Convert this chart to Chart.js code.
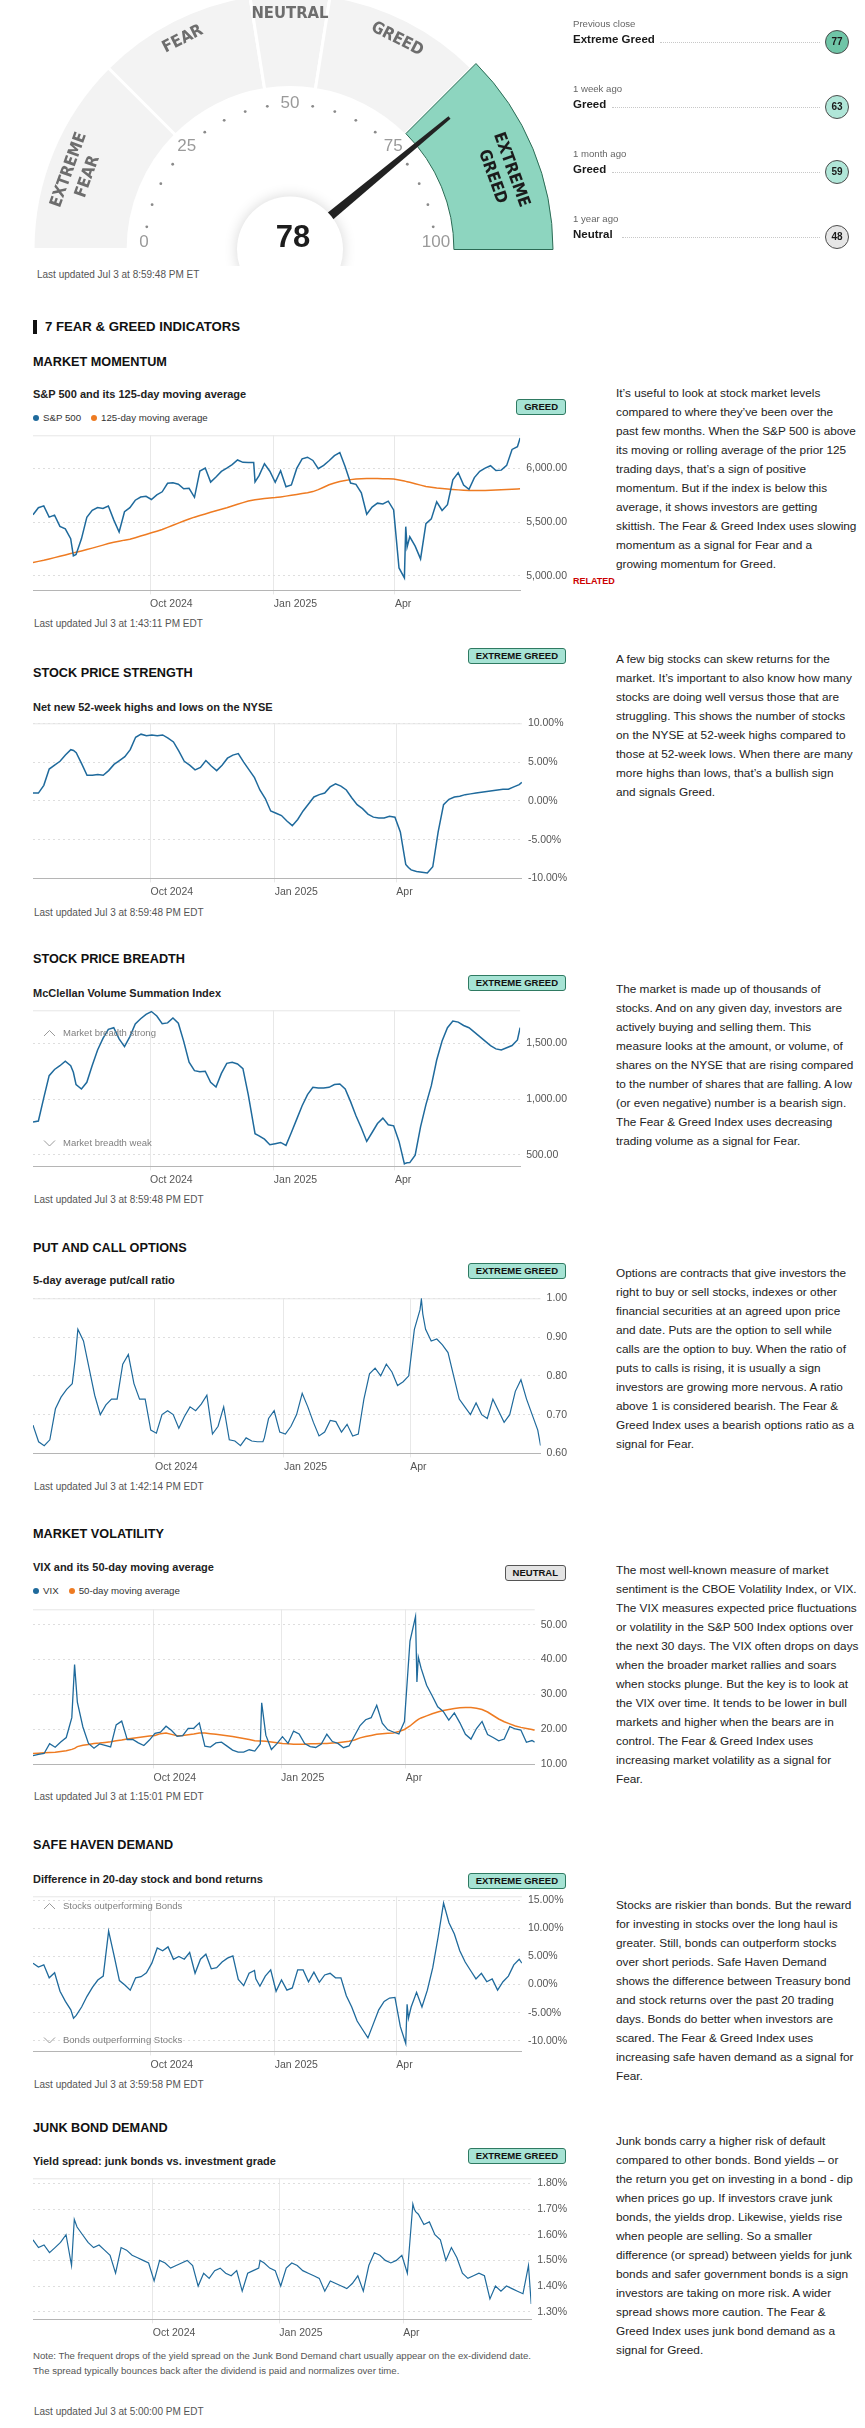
<!DOCTYPE html>
<html lang="en">
<head>
<meta charset="utf-8">
<title>Fear &amp; Greed Index</title>
<script src="https://cdn.jsdelivr.net/npm/chart.js@4.4.1/dist/chart.umd.min.js"></script>
<style>
  html, body { margin: 0; padding: 0; background: #fff; overflow: hidden; }
  #page { position: relative; width: 865px; height: 2428px; overflow: hidden; font-family: "Liberation Sans", Arial, sans-serif; color: #222; }
  .t { position: absolute; white-space: nowrap; }
  .h { font-weight: bold; font-size: 12.7px; line-height: 16px; color: #111; }
  .sub { font-weight: bold; font-size: 11px; line-height: 14px; color: #222; }
  .upd { font-size: 10px; line-height: 12px; color: #555; }
  .lg { font-size: 9.7px; line-height: 12px; color: #333; }
  .lg i { display: inline-block; width: 6px; height: 6px; border-radius: 50%; margin-right: 4px; }
  .lg b { font-weight: normal; margin-right: 10px; }
  .desc { position: absolute; left: 616px; font-size: 11.8px; line-height: 19px; color: #222; white-space: nowrap; }
  .badge { position: absolute; right: 299px; height: 14px; line-height: 14px; padding: 0 7px; border: 1px solid #2f7a62; background: #a6e3d4; border-radius: 3px; font-weight: bold; font-size: 9.5px; color: #111; white-space: nowrap; }
  .badge.neutral { background: #e4e4e4; border-color: #555; }
  .ann { position: absolute; left: 63px; font-size: 9.5px; line-height: 12px; color: #808080; white-space: nowrap; }
  .ann svg { position: absolute; left: -20px; top: 2px; }
  .box { position: absolute; left: 33px; width: 540px; }
  .when { font-size: 9.6px; line-height: 12px; color: #666; }
  .rate { font-size: 11.5px; line-height: 14px; font-weight: bold; color: #1a1a1a; }
  .lead { position: absolute; height: 0; border-top: 1px dotted #c8c8c8; }
  .circ { position: absolute; left: 825px; width: 24px; height: 24px; box-sizing: border-box; border: 1px solid #4d4d4d; border-radius: 50%; text-align: center; line-height: 22px; font-size: 10px; font-weight: bold; color: #1a1a1a; }
  .bar { position: absolute; left: 33px; top: 320px; width: 4px; height: 14px; background: #111; }
</style>
</head>
<body>
<div id="page">
  <div class="box" id="gauge-box" style="left:0;top:-24.5px;width:580px;height:290px"><canvas id="gauge"></canvas></div>

  <div class="t when" style="left:573px;top:18px">Previous close</div>
  <div class="t rate" style="left:573px;top:32px">Extreme Greed</div>
  <div class="lead" style="left:660px;width:160px;top:42px"></div>
  <div class="circ" style="top:30px;background:#6fc5a7">77</div>

  <div class="t when" style="left:573px;top:83px">1 week ago</div>
  <div class="t rate" style="left:573px;top:97px">Greed</div>
  <div class="lead" style="left:612px;width:208px;top:107px"></div>
  <div class="circ" style="top:95px;background:#b0e6d8">63</div>

  <div class="t when" style="left:573px;top:148px">1 month ago</div>
  <div class="t rate" style="left:573px;top:162px">Greed</div>
  <div class="lead" style="left:612px;width:208px;top:172px"></div>
  <div class="circ" style="top:160px;background:#b0e6d8">59</div>

  <div class="t when" style="left:573px;top:213px">1 year ago</div>
  <div class="t rate" style="left:573px;top:227px">Neutral</div>
  <div class="lead" style="left:622px;width:198px;top:237px"></div>
  <div class="circ" style="top:225px;background:#e6e6e6">48</div>

  <div class="t upd" style="left:37px;top:269px">Last updated Jul 3 at 8:59:48 PM ET</div>

  <div class="bar"></div>
  <div class="t" style="left:45px;top:319px;font-weight:bold;font-size:13.2px;line-height:16px;color:#111">7 FEAR &amp; GREED INDICATORS</div>

  <!-- market momentum -->
  <div class="t h" style="left:33px;top:354px">MARKET MOMENTUM</div>
  <div class="t sub" style="left:33px;top:387px">S&amp;P 500 and its 125-day moving average</div>
  <div class="t lg" style="left:33px;top:412px"><i style="background:#1f6a9c"></i><b>S&amp;P 500</b><i style="background:#ee7b22"></i>125-day moving average</div>
  <div class="badge" style="top:399px">GREED</div>
  <div class="t" style="left:573px;top:576px;font-size:9px;line-height:11px;font-weight:bold;color:#cc0000">RELATED</div>
  <div class="t upd" style="left:34px;top:618px">Last updated Jul 3 at 1:43:11 PM EDT</div>
  <div class="desc" style="top:383.5px">It’s useful to look at stock market levels<br>compared to where they’ve been over the<br>past few months. When the S&amp;P 500 is above<br>its moving or rolling average of the prior 125<br>trading days, that’s a sign of positive<br>momentum. But if the index is below this<br>average, it shows investors are getting<br>skittish. The Fear &amp; Greed Index uses slowing<br>momentum as a signal for Fear and a<br>growing momentum for Greed.</div>

  <!-- stock price strength -->
  <div class="t h" style="left:33px;top:665px">STOCK PRICE STRENGTH</div>
  <div class="t sub" style="left:33px;top:700px">Net new 52-week highs and lows on the NYSE</div>
  <div class="badge" style="top:648px">EXTREME GREED</div>
  <div class="t upd" style="left:34px;top:907px">Last updated Jul 3 at 8:59:48 PM EDT</div>
  <div class="desc" style="top:649.5px">A few big stocks can skew returns for the<br>market. It’s important to also know how many<br>stocks are doing well versus those that are<br>struggling. This shows the number of stocks<br>on the NYSE at 52-week highs compared to<br>those at 52-week lows. When there are many<br>more highs than lows, that’s a bullish sign<br>and signals Greed.</div>

  <!-- stock price breadth -->
  <div class="t h" style="left:33px;top:951px">STOCK PRICE BREADTH</div>
  <div class="t sub" style="left:33px;top:986px">McClellan Volume Summation Index</div>
  <div class="badge" style="top:975px">EXTREME GREED</div>
  <div class="t upd" style="left:34px;top:1194px">Last updated Jul 3 at 8:59:48 PM EDT</div>
  <div class="desc" style="top:979.5px">The market is made up of thousands of<br>stocks. And on any given day, investors are<br>actively buying and selling them. This<br>measure looks at the amount, or volume, of<br>shares on the NYSE that are rising compared<br>to the number of shares that are falling. A low<br>(or even negative) number is a bearish sign.<br>The Fear &amp; Greed Index uses decreasing<br>trading volume as a signal for Fear.</div>

  <!-- put and call options -->
  <div class="t h" style="left:33px;top:1240px">PUT AND CALL OPTIONS</div>
  <div class="t sub" style="left:33px;top:1273px">5-day average put/call ratio</div>
  <div class="badge" style="top:1263px">EXTREME GREED</div>
  <div class="t upd" style="left:34px;top:1481px">Last updated Jul 3 at 1:42:14 PM EDT</div>
  <div class="desc" style="top:1263.5px">Options are contracts that give investors the<br>right to buy or sell stocks, indexes or other<br>financial securities at an agreed upon price<br>and date. Puts are the option to sell while<br>calls are the option to buy. When the ratio of<br>puts to calls is rising, it is usually a sign<br>investors are growing more nervous. A ratio<br>above 1 is considered bearish. The Fear &amp;<br>Greed Index uses a bearish options ratio as a<br>signal for Fear.</div>

  <!-- market volatility -->
  <div class="t h" style="left:33px;top:1526px">MARKET VOLATILITY</div>
  <div class="t sub" style="left:33px;top:1560px">VIX and its 50-day moving average</div>
  <div class="t lg" style="left:33px;top:1585px"><i style="background:#1f6a9c"></i><b>VIX</b><i style="background:#ee7b22"></i>50-day moving average</div>
  <div class="badge neutral" style="top:1565px">NEUTRAL</div>
  <div class="t upd" style="left:34px;top:1791px">Last updated Jul 3 at 1:15:01 PM EDT</div>
  <div class="desc" style="top:1560.5px">The most well-known measure of market<br>sentiment is the CBOE Volatility Index, or VIX.<br>The VIX measures expected price fluctuations<br>or volatility in the S&amp;P 500 Index options over<br>the next 30 days. The VIX often drops on days<br>when the broader market rallies and soars<br>when stocks plunge. But the key is to look at<br>the VIX over time. It tends to be lower in bull<br>markets and higher when the bears are in<br>control. The Fear &amp; Greed Index uses<br>increasing market volatility as a signal for<br>Fear.</div>

  <!-- safe haven demand -->
  <div class="t h" style="left:33px;top:1837px">SAFE HAVEN DEMAND</div>
  <div class="t sub" style="left:33px;top:1872px">Difference in 20-day stock and bond returns</div>
  <div class="badge" style="top:1873px">EXTREME GREED</div>
  <div class="t upd" style="left:34px;top:2079px">Last updated Jul 3 at 3:59:58 PM EDT</div>
  <div class="desc" style="top:1895.5px">Stocks are riskier than bonds. But the reward<br>for investing in stocks over the long haul is<br>greater. Still, bonds can outperform stocks<br>over short periods. Safe Haven Demand<br>shows the difference between Treasury bond<br>and stock returns over the past 20 trading<br>days. Bonds do better when investors are<br>scared. The Fear &amp; Greed Index uses<br>increasing safe haven demand as a signal for<br>Fear.</div>

  <!-- junk bond demand -->
  <div class="t h" style="left:33px;top:2120px">JUNK BOND DEMAND</div>
  <div class="t sub" style="left:33px;top:2154px">Yield spread: junk bonds vs. investment grade</div>
  <div class="badge" style="top:2148px">EXTREME GREED</div>
  <div class="t upd" style="left:33px;top:2350px;font-size:9.6px">Note: The frequent drops of the yield spread on the Junk Bond Demand chart usually appear on the ex-dividend date.</div>
  <div class="t upd" style="left:33px;top:2365px;font-size:9.6px">The spread typically bounces back after the dividend is paid and normalizes over time.</div>
  <div class="t upd" style="left:34px;top:2406px">Last updated Jul 3 at 5:00:00 PM EDT</div>
  <div class="desc" style="top:2131.5px">Junk bonds carry a higher risk of default<br>compared to other bonds. Bond yields – or<br>the return you get on investing in a bond - dip<br>when prices go up. If investors crave junk<br>bonds, the yields drop. Likewise, yields rise<br>when people are selling. So a smaller<br>difference (or spread) between yields for junk<br>bonds and safer government bonds is a sign<br>investors are taking on more risk. A wider<br>spread shows more caution. The Fear &amp;<br>Greed Index uses junk bond demand as a<br>signal for Greed.</div>
</div>

<script>
const FONT = '"Liberation Sans", Arial, sans-serif';
const BLUE = '#1f6a9c';
const ORANGE = '#ee7b22';

// gauge
const GAUGE_VALUE = 78;
const BAND_NAMES = ['EXTREME FEAR', 'FEAR', 'NEUTRAL', 'GREED', 'EXTREME GREED'];
const BAND_SIZES = [25, 20, 10, 20, 25];
const GAUGE_TICKS = [0, 25, 50, 75, 100];

// sample dates, as days after Jul 3 2024
const DAYS = [
  3, 7, 11, 15, 19, 23, 27, 31, 33, 35, 39, 43,
  47, 51, 55, 59, 63, 67, 71, 75, 79, 83, 87, 91,
  95, 99, 103, 107, 111, 115, 119, 123, 127, 131, 135, 139,
  143, 147, 151, 155, 159, 163, 167, 168, 171, 175, 179, 183,
  187, 191, 195, 199, 203, 207, 211, 215, 219, 223, 227, 231,
  235, 239, 243, 247, 251, 255, 259, 263, 267, 271, 275, 279,
  280, 281, 283, 287, 291, 295, 299, 303, 307, 311, 315, 319,
  323, 327, 331, 335, 339, 343, 347, 351, 355, 359, 363, 365,
];
const MONTH_TICKS = [90, 182, 272];
const MONTH_LABELS = ['Oct 2024', 'Jan 2025', 'Apr'];

const SP500 = [
  5567, 5633, 5650, 5545, 5564, 5459, 5436, 5346, 5186, 5199, 5344, 5543,
  5608, 5634, 5625, 5648, 5520, 5408, 5595, 5633, 5702, 5732, 5738, 5709,
  5751, 5780, 5859, 5864, 5851, 5808, 5813, 5729, 5973, 6001, 5870, 5917,
  5969, 5999, 6032, 6075, 6053, 6051, 6051, 5872, 5930, 6040, 5971, 5869,
  5975, 5827, 5843, 5997, 6086, 6101, 6071, 5994, 6026, 6068, 6115, 6144,
  6013, 5861, 5849, 5770, 5572, 5639, 5675, 5668, 5693, 5612, 5074, 4982,
  5457, 5268, 5363, 5276, 5158, 5485, 5529, 5687, 5607, 5660, 5892, 5958,
  5842, 5803, 5912, 5970, 6000, 6022, 5977, 5981, 6025, 6173, 6198, 6279,
];
const SP500_MA125 = [
  5125, 5135, 5145, 5157, 5170, 5182, 5195, 5208, 5214, 5220, 5232, 5245,
  5258, 5272, 5286, 5300, 5312, 5322, 5332, 5340, 5355, 5370, 5385, 5400,
  5415, 5430, 5450, 5470, 5490, 5510, 5528, 5545, 5560, 5575, 5590, 5605,
  5618, 5632, 5648, 5664, 5680, 5695, 5705, 5707, 5712, 5718, 5723, 5727,
  5733, 5740, 5748, 5756, 5764, 5772, 5782, 5800, 5822, 5845, 5862, 5875,
  5885, 5893, 5899, 5902, 5903, 5903, 5903, 5902, 5902, 5899, 5890, 5880,
  5877, 5874, 5868, 5855, 5842, 5830, 5822, 5815, 5810, 5805, 5801, 5798,
  5795, 5793, 5792, 5792, 5793, 5795, 5797, 5799, 5801, 5803, 5806, 5808,
];
const NET_HIGHS_LOWS = [
  1.0, 1.0, 2.0, 4.1, 4.6, 5.1, 5.9, 6.6, 6.5, 6.2, 4.8, 3.3,
  3.3, 3.4, 3.3, 3.9, 4.7, 5.2, 5.7, 6.6, 8.2, 8.6, 8.4, 8.5,
  8.4, 8.5, 8.1, 7.6, 6.4, 5.1, 4.6, 4.0, 4.3, 5.2, 4.5, 3.9,
  4.6, 5.5, 5.9, 6.1, 5.0, 4.0, 3.0, 2.6, 1.4, 0.3, -1.3, -1.6,
  -1.9, -2.6, -3.2, -2.4, -1.3, -0.4, 0.5, 0.8, 1.0, 1.8, 2.2, 1.9,
  1.4, 0.4, -0.5, -1.0, -1.7, -2.1, -2.2, -2.2, -2.0, -2.1, -4.0, -8.2,
  -8.4, -8.6, -8.9, -9.1, -9.2, -9.3, -8.5, -4.0, -0.5, 0.2, 0.5, 0.6,
  0.8, 0.9, 1.0, 1.1, 1.2, 1.3, 1.4, 1.5, 1.5, 1.8, 2.1, 2.4,
];
const MCCLELLAN = [
  794, 803, 1010, 1210, 1265, 1299, 1340, 1300, 1240, 1130, 1090, 1150,
  1300, 1440, 1544, 1625, 1640, 1540, 1470, 1560, 1674, 1720, 1760, 1785,
  1745, 1675, 1683, 1727, 1680, 1517, 1330, 1255, 1245, 1250, 1150, 1108,
  1230, 1320, 1330, 1315, 1273, 1038, 760, 689, 670, 640, 590, 600,
  611, 585, 700, 820, 940, 1040, 1105, 1100, 1099, 1105, 1130, 1135,
  1090, 977, 850, 740, 620, 700, 780, 829, 770, 760, 620, 419,
  425, 428, 430, 497, 750, 950, 1120, 1350, 1520, 1640, 1700, 1690,
  1660, 1640, 1600, 1560, 1520, 1480, 1450, 1440, 1460, 1480, 1530, 1640,
];
const PUT_CALL = [
  0.673, 0.63, 0.62, 0.635, 0.715, 0.745, 0.765, 0.78, 0.84, 0.92, 0.89, 0.82,
  0.75, 0.70, 0.725, 0.74, 0.74, 0.83, 0.855, 0.78, 0.74, 0.74, 0.66, 0.652,
  0.70, 0.71, 0.70, 0.665, 0.695, 0.72, 0.71, 0.727, 0.75, 0.65, 0.67, 0.72,
  0.635, 0.632, 0.62, 0.64, 0.632, 0.63, 0.63, 0.64, 0.69, 0.71, 0.655, 0.65,
  0.67, 0.70, 0.755, 0.72, 0.68, 0.645, 0.655, 0.685, 0.682, 0.655, 0.675, 0.645,
  0.65, 0.74, 0.805, 0.82, 0.80, 0.83, 0.81, 0.775, 0.785, 0.80, 0.92, 0.97,
  0.998, 0.96, 0.92, 0.89, 0.895, 0.88, 0.86, 0.80, 0.74, 0.72, 0.70, 0.73,
  0.70, 0.69, 0.74, 0.71, 0.68, 0.70, 0.76, 0.79, 0.74, 0.70, 0.66, 0.62,
];
const VIX = [
  12.48, 12.85, 13.12, 15.93, 14.91, 16.39, 17.69, 23.39, 38.57, 27.85, 20.71, 16.02,
  14.65, 15.86, 15.43, 15.00, 21.32, 22.38, 17.07, 17.14, 16.15, 15.39, 16.96, 18.90,
  19.21, 20.93, 19.70, 18.03, 18.20, 20.33, 20.35, 21.88, 15.20, 14.97, 16.14, 16.35,
  15.24, 14.10, 13.51, 13.54, 14.19, 13.81, 15.87, 27.62, 18.36, 14.27, 15.95, 17.93,
  16.04, 19.54, 18.71, 15.97, 15.10, 14.85, 15.84, 18.62, 16.54, 16.02, 14.77, 15.27,
  18.21, 21.13, 22.78, 23.37, 26.92, 21.77, 19.90, 19.28, 18.69, 22.28, 45.31, 52.33,
  33.62, 40.72, 37.56, 32.64, 29.65, 26.47, 25.15, 22.68, 24.76, 21.90, 18.62, 17.24,
  20.28, 22.29, 18.57, 17.69, 16.77, 17.26, 20.82, 20.14, 19.83, 16.32, 16.83, 16.38,
];
const VIX_MA50 = [
  13.1, 13.2, 13.3, 13.4, 13.5, 13.7, 13.9, 14.3, 14.6, 15.1, 15.5, 15.7,
  16.0, 16.1, 16.3, 16.5, 16.8, 17.0, 17.3, 17.5, 17.7, 17.9, 18.1, 18.3,
  18.8, 19.0, 18.6, 18.2, 18.3, 18.5, 18.7, 19.0, 19.0, 18.8, 18.6, 18.4,
  18.2, 18.0, 17.7, 17.4, 17.1, 16.8, 16.7, 16.7, 16.6, 16.4, 16.2, 16.0,
  15.9, 15.8, 15.8, 15.8, 15.9, 15.9, 16.0, 16.0, 16.1, 16.2, 16.4, 16.6,
  17.0, 17.6, 18.0, 18.3, 18.6, 18.8, 18.9, 19.0, 19.4, 20.0, 21.0, 22.3,
  22.6, 22.9, 23.3, 23.9, 24.5, 25.0, 25.4, 25.7, 26.0, 26.2, 26.3, 26.3,
  26.1, 25.7, 25.0, 24.0, 23.0, 22.2, 21.6, 21.0, 20.6, 20.3, 20.0, 19.8,
];
const SAFE_HAVEN = [
  3.8, 3.1, 3.5, 1.2, 2.1, -1.2, -3.0, -4.5, -6.0, -5.5, -4.0, -2.1,
  -0.5, 0.8, 1.5, 9.5, 5.2, 0.7, -0.1, -1.0, 1.2, 1.4, 2.1, 3.8,
  6.5, 6.0, 6.7, 4.5, 5.0, 4.5, 5.7, 2.0, 4.5, 5.4, 2.8, 3.0,
  4.0, 4.7, 5.1, 0.9, -0.2, 2.0, 2.5, 1.0, -0.3, 1.5, 2.6, -1.2,
  0.8, -1.0, -0.6, 2.6, 2.6, 0.5, 2.2, 0.4, 1.7, 2.0, 1.2, 1.2,
  -2.0, -4.0, -6.5, -8.0, -9.5, -7.0, -4.5, -3.0, -2.4, -2.3, -7.5, -10.5,
  -3.5, -6.0, -4.0, -1.4, -4.0, -1.0, 3.0, 8.5, 14.5, 11.0, 9.0, 6.0,
  4.0, 2.5, 1.0, 2.0, 0.5, 1.0, -1.0, 0.5, 1.5, 3.5, 4.5, 3.8,
];
const JUNK_SPREAD = [
  1.58, 1.55, 1.56, 1.53, 1.55, 1.57, 1.60, 1.48, 1.66, 1.63, 1.60, 1.57,
  1.55, 1.56, 1.54, 1.52, 1.45, 1.55, 1.54, 1.52, 1.51, 1.50, 1.49, 1.42,
  1.50, 1.49, 1.47, 1.48, 1.49, 1.50, 1.48, 1.40, 1.45, 1.43, 1.46, 1.47,
  1.45, 1.44, 1.46, 1.38, 1.45, 1.46, 1.47, 1.50, 1.49, 1.47, 1.46, 1.40,
  1.47, 1.49, 1.48, 1.46, 1.45, 1.44, 1.43, 1.38, 1.42, 1.41, 1.40, 1.39,
  1.41, 1.44, 1.38, 1.48, 1.53, 1.52, 1.50, 1.49, 1.50, 1.52, 1.45, 1.72,
  1.70, 1.69, 1.68, 1.64, 1.65, 1.60, 1.58, 1.50, 1.55, 1.51, 1.45, 1.43,
  1.44, 1.45, 1.44, 1.35, 1.40, 1.38, 1.40, 1.39, 1.38, 1.37, 1.48, 1.33,
];

const MM_TICKS = [5000, 5500, 6000];
const SPS_TICKS = [-10, -5, 0, 5, 10];
const SPB_TICKS = [500, 1000, 1500];
const POC_TICKS = [0.6, 0.7, 0.8, 0.9, 1.0];
const MV_TICKS = [10, 20, 30, 40, 50];
const SHD_TICKS = [-10, -5, 0, 5, 10, 15];
const JBD_TICKS = [1.3, 1.4, 1.5, 1.6, 1.7, 1.8];

const money = (v) => v.toLocaleString('en-US', { minimumFractionDigits: 2, maximumFractionDigits: 2 });
const pct = (v) => `${v.toFixed(2)}%`;
const fixed2 = (v) => v.toFixed(2);

function activeBand(v) {
  let acc = 0;
  for (let i = 0; i < BAND_SIZES.length; i++) {
    acc += BAND_SIZES[i];
    if (v <= acc) return i;
  }
  return BAND_SIZES.length - 1;
}
const ACTIVE = activeBand(GAUGE_VALUE);

// labels, dial dots, needle and the hub, drawn round the doughnut
const gaugeDecor = {
  id: 'gaugeDecor',
  afterUpdate(chart) {
    const arc = chart.getDatasetMeta(0).data[ACTIVE];
    if (arc) { arc.outerRadius += 6; arc.innerRadius += 2; }
  },
  afterDatasetsDraw(chart) {
    const { ctx } = chart;
    const first = chart.getDatasetMeta(0).data[0];
    const cx = first.x, cy = first.y;
    const ang = (v) => -Math.PI + (v / 100) * Math.PI;
    const pt = (v, r) => [cx + r * Math.cos(ang(v)), cy + r * Math.sin(ang(v))];
    ctx.save();
    ctx.textAlign = 'center';
    ctx.textBaseline = 'middle';

    let start = 0;
    BAND_NAMES.forEach((name, i) => {
      let mid = start + BAND_SIZES[i] / 2;
      start += BAND_SIZES[i];
      const lines = name.split(' ');
      // the two-line end labels sit a little lower on the dial
      if (lines.length > 1) mid += mid < 50 ? -1.5 : 1.5;
      const radii = lines.length > 1 ? [235, 215] : [236];
      ctx.fillStyle = i === ACTIVE ? '#1b1b1b' : '#6d6d6d';
      ctx.font = 'bold 16.5px "DejaVu Sans Condensed", "Liberation Sans Narrow", sans-serif';
      lines.forEach((line, j) => {
        const [x, y] = pt(mid, radii[j]);
        ctx.save();
        ctx.translate(x, y);
        ctx.rotate(ang(mid) + Math.PI / 2);
        ctx.fillText(line, 0, 0);
        ctx.restore();
      });
    });

    ctx.fillStyle = '#8a8a8a';
    for (let v = 5; v < 100; v += 5) {
      if (v % 25 === 0) continue;
      const [x, y] = pt(v, 145);
      ctx.beginPath();
      ctx.arc(x, y, 1.4, 0, Math.PI * 2);
      ctx.fill();
    }

    ctx.fillStyle = '#9a9a9a';
    ctx.font = '17px ' + FONT;
    GAUGE_TICKS.forEach((v) => {
      const [x, y] = pt(v, 146);
      ctx.fillText(String(v), x, Math.min(y, cy - 7));
    });

    const a = ang(GAUGE_VALUE);
    const n = [Math.cos(a), Math.sin(a)];
    const p = [-n[1], n[0]];
    const r0 = 48, r1 = 207, w0 = 4.5, w1 = 1.6;
    ctx.fillStyle = '#222';
    ctx.beginPath();
    ctx.moveTo(cx + n[0] * r0 + p[0] * w0, cy + n[1] * r0 + p[1] * w0);
    ctx.lineTo(cx + n[0] * r1 + p[0] * w1, cy + n[1] * r1 + p[1] * w1);
    ctx.lineTo(cx + n[0] * r1 - p[0] * w1, cy + n[1] * r1 - p[1] * w1);
    ctx.lineTo(cx + n[0] * r0 - p[0] * w0, cy + n[1] * r0 - p[1] * w0);
    ctx.closePath();
    ctx.fill();

    ctx.shadowColor = 'rgba(0,0,0,0.16)';
    ctx.shadowBlur = 14;
    ctx.fillStyle = '#fff';
    ctx.beginPath();
    ctx.arc(cx, cy, 53, 0, Math.PI * 2);
    ctx.fill();
    ctx.shadowColor = 'transparent';
    ctx.fillStyle = '#1d1d1d';
    ctx.font = 'bold 31px ' + FONT;
    ctx.textBaseline = 'alphabetic';
    ctx.fillText(String(GAUGE_VALUE), cx + 3, cy - 3);
    ctx.restore();
  },
};

new Chart(document.getElementById('gauge'), {
  type: 'doughnut',
  data: {
    labels: BAND_NAMES,
    datasets: [{
      data: BAND_SIZES,
      backgroundColor: BAND_SIZES.map((_, i) => (i === ACTIVE ? '#8dd5bf' : '#f3f3f3')),
      borderColor: BAND_SIZES.map((_, i) => (i === ACTIVE ? '#2c6b55' : '#ffffff')),
      borderWidth: BAND_SIZES.map((_, i) => (i === ACTIVE ? 1 : 3)),
    }],
  },
  options: {
    responsive: true,
    maintainAspectRatio: false,
    animation: false,
    events: [],
    rotation: -90,
    circumference: 180,
    cutout: '63%',
    radius: 257,
    layout: { padding: 0 },
    plugins: { legend: { display: false }, tooltip: { enabled: false } },
  },
  plugins: [gaugeDecor],
});

// thin frame line on top of each plot
const frameTop = {
  id: 'frameTop',
  beforeDatasetsDraw(chart) {
    const { ctx, chartArea: a } = chart;
    ctx.save();
    ctx.strokeStyle = '#e6e6e6';
    ctx.lineWidth = 1;
    ctx.beginPath();
    ctx.moveTo(a.left, a.top + 0.5);
    ctx.lineTo(a.right, a.top + 0.5);
    ctx.stroke();
    ctx.restore();
  },
};

const CHARTS = [
  { top: 423, plotH: 160, series: [{ values: SP500, color: BLUE }, { values: SP500_MA125, color: ORANGE }],
    y: { min: 4866, max: 6304, ticks: MM_TICKS, fmt: money } },
  { top: 711, plotH: 160, series: [{ values: NET_HIGHS_LOWS, color: BLUE }],
    y: { min: -10, max: 10, ticks: SPS_TICKS, fmt: pct } },
  { top: 998, plotH: 161, series: [{ values: MCCLELLAN, color: BLUE }],
    y: { min: 396, max: 1796, ticks: SPB_TICKS, fmt: money } },
  { top: 1286, plotH: 160, series: [{ values: PUT_CALL, color: BLUE, width: 1.2 }],
    y: { min: 0.6, max: 1.0, ticks: POC_TICKS, fmt: fixed2 } },
  { top: 1597, plotH: 160, series: [{ values: VIX, color: BLUE, width: 1.3 }, { values: VIX_MA50, color: ORANGE }],
    y: { min: 10, max: 54.4, ticks: MV_TICKS, fmt: fixed2 } },
  { top: 1884, plotH: 160, series: [{ values: SAFE_HAVEN, color: BLUE, width: 1.3 }],
    y: { min: -11.9, max: 15.7, ticks: SHD_TICKS, fmt: pct } },
  { top: 2166, plotH: 146, series: [{ values: JUNK_SPREAD, color: BLUE, width: 1.2 }],
    y: { min: 1.27, max: 1.82, ticks: JBD_TICKS, fmt: pct } },
];

function lineChart(canvas, c) {
  return new Chart(canvas, {
    type: 'line',
    data: {
      datasets: c.series.map((s) => ({
        data: DAYS.map((d, i) => ({ x: d, y: s.values[i] })),
        borderColor: s.color,
        borderWidth: s.width || 1.5,
        pointRadius: 0,
        tension: 0,
        fill: false,
      })),
    },
    options: {
      responsive: true,
      maintainAspectRatio: false,
      animation: false,
      events: [],
      layout: { padding: { top: 10, left: 0, right: 0, bottom: 0 } },
      plugins: { legend: { display: false }, tooltip: { enabled: false } },
      scales: {
        x: {
          type: 'linear', min: 3, max: 365,
          afterBuildTicks: (ax) => { ax.ticks = MONTH_TICKS.map((v) => ({ value: v })); },
          ticks: {
            callback: (v) => MONTH_LABELS[MONTH_TICKS.indexOf(v)],
            align: 'start', autoSkip: false, maxRotation: 0, padding: 3,
            color: '#555', font: { family: FONT, size: 10.5 },
          },
          grid: { color: '#e8e8e8', tickLength: 4 },
          border: { display: true, color: '#b5b5b5' },
        },
        y: {
          position: 'right', min: c.y.min, max: c.y.max,
          afterBuildTicks: (ax) => { ax.ticks = c.y.ticks.map((v) => ({ value: v })); },
          ticks: { callback: (v) => c.y.fmt(v), padding: 6, color: '#555', font: { family: FONT, size: 10.5 } },
          grid: { color: '#dedede', drawTicks: false },
          border: { display: false, dash: [2, 3] },
        },
      },
    },
    plugins: [frameTop],
  });
}

const page = document.getElementById('page');
CHARTS.forEach((c) => {
  const box = document.createElement('div');
  box.className = 'box';
  box.style.top = `${c.top}px`;
  box.style.height = `${c.plotH + 30}px`;
  const canvas = document.createElement('canvas');
  box.appendChild(canvas);
  page.appendChild(box);
  lineChart(canvas, c);
});

// annotation arrows on the breadth and safe-haven plots
const NOTES = [
  { top: 1027, text: 'Market breadth strong', up: true },
  { top: 1137, text: 'Market breadth weak', up: false },
  { top: 1900, text: 'Stocks outperforming Bonds', up: true },
  { top: 2034, text: 'Bonds outperforming Stocks', up: false },
];
NOTES.forEach((n) => {
  const el = document.createElement('div');
  el.className = 'ann';
  el.style.top = `${n.top}px`;
  const pts = n.up ? '1,7 6.5,1.5 12,7' : '1,1.5 6.5,7 12,1.5';
  el.innerHTML = `<svg width="13" height="9"><polyline points="${pts}" fill="none" stroke="#9a9a9a" stroke-width="1"/></svg>${n.text}`;
  page.appendChild(el);
});
</script>
</body>
</html>
